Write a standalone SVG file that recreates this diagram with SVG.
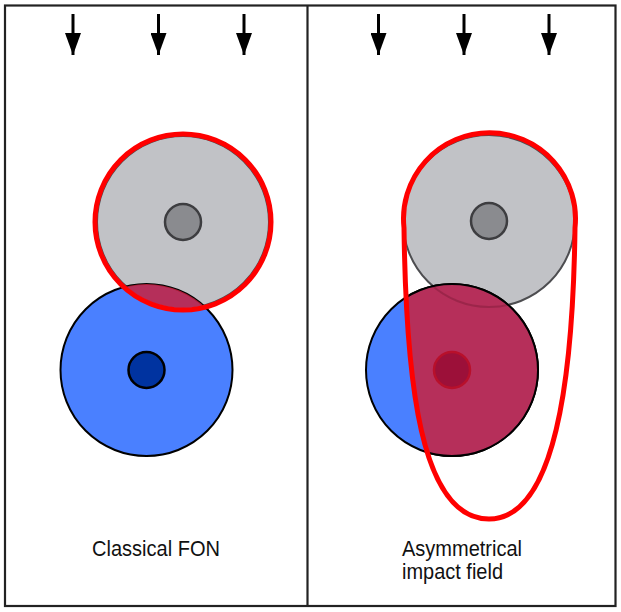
<svg xmlns="http://www.w3.org/2000/svg" width="621" height="612" viewBox="0 0 621 612">
<style>
.frame{fill:none;stroke:#222;stroke-width:2.2}
.gray{fill:#c1c2c6;stroke:#4d4d50;stroke-width:2}
.grayin{fill:#8a8b8f;stroke:#3d3d40;stroke-width:2.5}
.blue{fill:#4a80ff;stroke:#000;stroke-width:2}
.bluein{fill:#0033a0;stroke:#000;stroke-width:2.5}
.field{fill:none;stroke:#ff0000;stroke-width:5}
.over{fill:#c8213d;fill-opacity:0.85}
.lbl{font-family:"Liberation Sans",Arial,sans-serif;font-size:22px;fill:#111}
.arr{stroke:#000;stroke-width:3;fill:none}
</style>
<defs>
<marker id="ah" viewBox="0 0 22 16" refX="22" refY="8" markerWidth="22" markerHeight="16" markerUnits="userSpaceOnUse" orient="auto">
<path d="M0,0 L22,8 L0,16 Z" fill="#000"/>
</marker>
<clipPath id="clipGrayL"><circle cx="183" cy="222" r="86"/></clipPath>
<clipPath id="clipBlueR"><circle cx="452" cy="370" r="86"/></clipPath>
<clipPath id="clipTear"><path d="M404 228 A86 86 0 1 1 575 228 C573 380 555 519 489 519 C420 519 406 380 404 228 Z"/></clipPath>
</defs>
<rect class="frame" x="5" y="5.5" width="610.5" height="600.5"/>
<line class="frame" x1="307.5" y1="5.5" x2="307.5" y2="606"/>
<g id="connectors">
<path class="arr" d="M73 14 V55" marker-end="url(#ah)"/>
<path class="arr" d="M158.5 14 V55" marker-end="url(#ah)"/>
<path class="arr" d="M244 14 V55" marker-end="url(#ah)"/>
<path class="arr" d="M378.5 14 V55" marker-end="url(#ah)"/>
<path class="arr" d="M464 14 V55" marker-end="url(#ah)"/>
<path class="arr" d="M549 14 V55" marker-end="url(#ah)"/>
</g>
<g id="left-panel">
<g id="left-gray">
<circle class="gray" cx="183" cy="222" r="86"/>
<circle class="grayin" cx="183" cy="222" r="18"/>
</g>
<g id="left-blue">
<circle class="blue" cx="146.5" cy="370" r="86"/>
<circle class="bluein" cx="146.5" cy="370" r="18"/>
</g>
<circle class="over" cx="146.5" cy="370" r="86" clip-path="url(#clipGrayL)"/>
<circle class="field" cx="183" cy="222" r="88"/>
<text class="lbl" x="92" y="556" textLength="128" lengthAdjust="spacingAndGlyphs">Classical FON</text>
</g>
<g id="right-panel">
<g id="right-gray">
<circle class="gray" cx="489" cy="221" r="86"/>
<circle class="grayin" cx="489" cy="221" r="18"/>
</g>
<g id="right-blue">
<circle class="blue" cx="452" cy="370" r="86"/>
<circle class="bluein" cx="452" cy="370" r="18"/>
</g>
<g clip-path="url(#clipTear)">
<circle cx="452" cy="370" r="86" fill="#b62f5a"/>
<g clip-path="url(#clipBlueR)">
<circle cx="489" cy="221" r="86" fill="none" stroke="#8a2040" stroke-width="2" stroke-opacity="0.6"/>
</g>
<circle cx="452" cy="370" r="86" fill="none" stroke="#000" stroke-width="2"/>
<circle cx="452" cy="370" r="18" fill="#9c1039" stroke="#b8102b" stroke-width="2.5"/>
</g>
<path class="field" d="M404 228 A86 86 0 1 1 575 228 C573 380 555 519 489 519 C420 519 406 380 404 228 Z"/>
<text class="lbl" x="402" y="556" textLength="120" lengthAdjust="spacingAndGlyphs">Asymmetrical</text>
<text class="lbl" x="402" y="579" textLength="101" lengthAdjust="spacingAndGlyphs">impact field</text>
</g>
</svg>
